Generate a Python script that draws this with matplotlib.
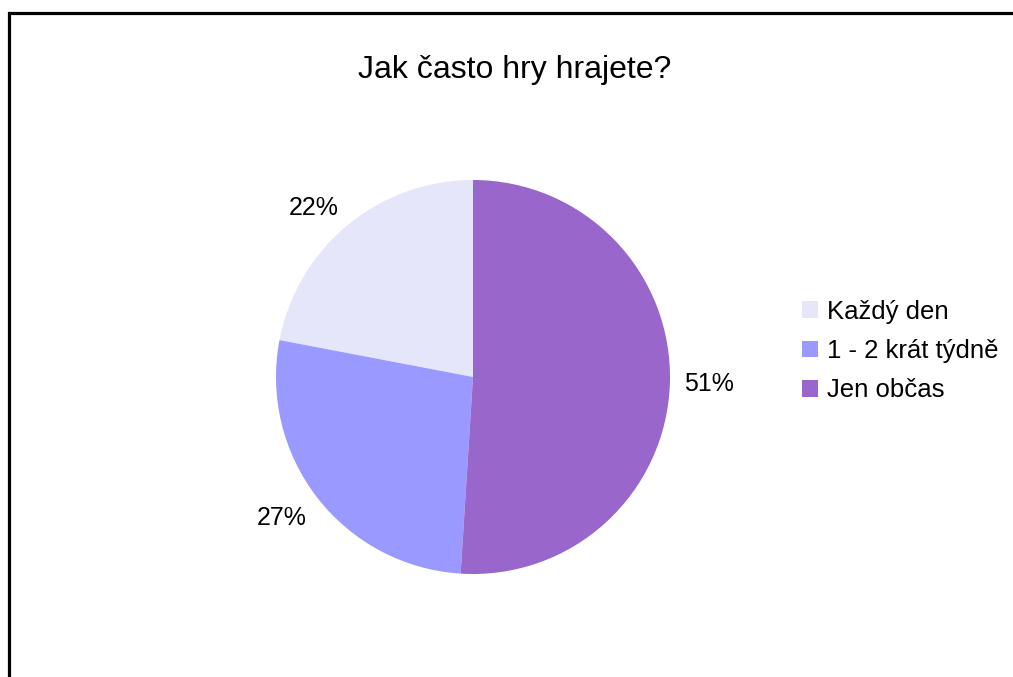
import matplotlib
matplotlib.use("Agg")
import numpy as np
import matplotlib.pyplot as plt
from matplotlib.patches import Patch, Rectangle

plt.rcParams['font.family'] = ['Liberation Sans', 'DejaVu Sans']

# answers to "how often do you play games"
kategorie = ['Každý den', '1 - 2 krát týdně', 'Jen občas']
podily = [22, 27, 51]
barvy = ['#E6E6FA', '#9999FF', '#9966CC']

W, H = 1013, 677
fig = plt.figure(figsize=(W / 100, H / 100), dpi=100)
fig.patch.set_facecolor('white')

# outer frame, only left and top edges are inside the image
fig.patches.append(Rectangle((9 / W, -0.1), 1.2, (H - 13) / H + 0.1,
                             transform=fig.transFigure, fill=False,
                             edgecolor='black', linewidth=2.3))

cx, cy, r = 473, 377, 197
ax = fig.add_axes([(cx - r) / W, (H - cy - r) / H, 2 * r / W, 2 * r / H])
wedges, _ = ax.pie(podily, colors=barvy, startangle=90, counterclock=True,
                   radius=1, wedgeprops=dict(linewidth=0))
ax.set_xlim(-1, 1)
ax.set_ylim(-1, 1)
ax.set_aspect('equal')
ax.axis('off')

# percentage labels just outside each wedge, anchored on the side facing the pie
celkem = sum(podily)
for w, v in zip(wedges, podily):
    uhel = np.deg2rad((w.theta1 + w.theta2) / 2)
    dx, dy = np.cos(uhel), np.sin(uhel)
    ha = 'left' if dx > 0.3 else ('right' if dx < -0.3 else 'center')
    va = 'baseline' if dy > 0.3 else ('top' if dy < -0.3 else 'center')
    ax.text(1.07 * dx, 1.07 * dy, '%.0f%%' % (100 * v / celkem),
            fontsize=18, ha=ha, va=va)

fig.text(515 / W, 1 - 70 / H, 'Jak často hry hrajete?', fontsize=23,
         ha='center', va='center')

handles = [Patch(facecolor=c, edgecolor='none') for c in barvy]
fig.legend(handles, kategorie, loc='center left',
           bbox_to_anchor=(802 / W, 1 - 351 / H), frameon=False,
           fontsize=18.5, handlelength=0.62, handleheight=0.62,
           handletextpad=0.35, labelspacing=0.6, borderpad=0,
           borderaxespad=0)

fig.savefig('out.png', dpi=100)
